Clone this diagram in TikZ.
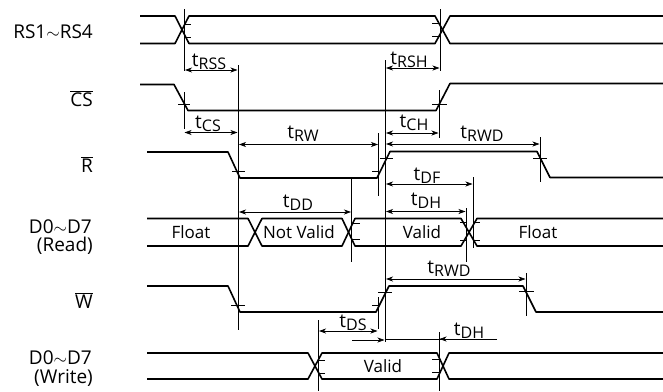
\documentclass[tikz,border=0pt]{standalone}
\usepackage{fontspec}
\setmainfont{Open Sans}
\usetikzlibrary{arrows.meta}
\newcommand{\tlab}[1]{{\fontsize{19}{19}\selectfont t}\raisebox{-3pt}{\fontsize{16}{16}\selectfont #1}}
\newcommand{\ovl}[1]{$\overline{\mbox{#1}}$}
\tikzset{
  sig/.style={line width=1.6pt,line join=round},
  guide/.style={line width=0.7pt},
  dim/.style={line width=0.7pt,{Stealth[length=7pt,width=5pt,inset=2pt]}-{Stealth[length=7pt,width=5pt,inset=2pt]}},
  dimr/.style={line width=0.7pt,-{Stealth[length=7pt,width=5pt,inset=2pt]}},
  dimtxt/.style={anchor=base,inner sep=0pt},
  lbl/.style={anchor=base east,inner sep=0pt,font=\fontsize{19}{19}\selectfont},
  val/.style={anchor=center,inner sep=0pt,font=\fontsize{17}{18}\selectfont}
}
\begin{document}
\begin{tikzpicture}[x=1pt,y=-1pt]
\useasboundingbox[fill=white] (0,0) rectangle (663,391);
% signals
\draw[sig] (140,16)--(175,16)--(189,43.5)--(435,43.5)--(450,16)--(663,16);
\draw[sig] (140,43.5)--(175,43.5)--(189,16)--(435,16)--(450,43.5)--(663,43.5);
\draw[sig] (140,84.5)--(174,84.5)--(188,110.5)--(436,110.5)--(450,83.5)--(663,83.5);
\draw[sig] (147,152)--(228,152)--(240,178)--(377,178)--(390,151.5)--(537,151.5)--(550,177.5)--(663,177.5);
\draw[sig] (147,218.5)--(248,218.5)--(262,246)--(342,246)--(355,218.5)--(461,218.5)--(477,246)--(663,246);
\draw[sig] (147,246)--(248,246)--(262,218.5)--(342,218.5)--(355,246)--(461,246)--(477,218.5)--(663,218.5);
\draw[sig] (147,286)--(228,286)--(240,312)--(376,312)--(389,286)--(523,286)--(536,312)--(663,312);
\draw[sig] (147,353)--(308,353)--(322,379)--(437,379)--(449,353)--(663,353);
\draw[sig] (147,379)--(308,379)--(322,353)--(437,353)--(449,379)--(663,379);
% guides
\draw[guide] (184.5,9)--(184.5,71);
\draw[guide] (440,9)--(440,71);
\draw[guide] (238,65)--(238,330);
\draw[guide] (385,60)--(385,342);
\draw[guide] (184,92)--(184,129);
\draw[guide] (439,90)--(439,138);
\draw[guide] (378.5,133)--(378.5,196);
\draw[guide] (540,137)--(540,182);
\draw[guide] (473,177)--(473,248);
\draw[guide] (466,208)--(466,262);
\draw[guide] (351.5,179)--(351.5,262);
\draw[guide] (378,297)--(378,329);
\draw[guide] (526,273)--(526,316);
\draw[guide] (318,320)--(318,391);
\draw[guide] (439,332)--(439,391);
% level ticks
\draw[guide] (184,24)--(191,24) (184,37)--(191,37) (432,23)--(440,23) (432,36)--(440,36);
\draw[guide] (178,104)--(190,104) (432,104)--(447,104);
\draw[guide] (232,171.5)--(245,171.5) (372,171)--(379,171) (380,158)--(393,158) (533,158)--(547,158);
\draw[guide] (351,223)--(360,223) (351,239)--(360,239);
\draw[guide] (460,222)--(466,222) (473,222)--(480,222) (460,240)--(466,240) (473,240)--(480,240);
\draw[guide] (231,305.5)--(245,305.5) (372,305.5)--(378,305.5) (378,292)--(392,292) (519,291)--(534,291);
\draw[guide] (318,360)--(325,360) (318,373)--(325,373) (432,359)--(439,359) (432,372)--(439,372);
% dimension arrows
\draw[dim] (185,70)--(237.5,70);
\draw[dim] (386,68)--(439.5,68);
\draw[dim] (184.5,132.5)--(237.5,132.5);
\draw[dim] (386,133)--(438.5,133);
\draw[dim] (239,144.5)--(378,144.5);
\draw[dim] (386,144)--(539.5,144);
\draw[dim] (386,184)--(472.5,184);
\draw[dim] (386,211.5)--(465.5,211.5);
\draw[dim] (239,212)--(351,212);
\draw[dim] (386,279)--(525.5,279);
\draw[dim] (319,331)--(377.5,331);
\draw[dimr] (352,340)--(384.5,340);
\draw[guide] (385,339)--(497,339);
\draw[dimr] (497,339)--(439.5,339);
% dimension labels
\node[dimtxt] (trss) at (209,66) {\tlab{RSS}};
\node[dimtxt] (trsh) at (409,64) {\tlab{RSH}};
\node[dimtxt] (tcs) at (208,128) {\tlab{CS}};
\node[dimtxt] (tch) at (414,127) {\tlab{CH}};
\node[dimtxt] (trw) at (303,138) {\tlab{RW}};
\node[dimtxt] (trwd) at (482,138) {\tlab{RWD}};
\node[dimtxt] (tdf) at (427,180) {\tlab{DF}};
\node[dimtxt] (tdh) at (426,205) {\tlab{DH}};
\node[dimtxt] (tdd) at (298,207) {\tlab{DD}};
\node[dimtxt] (trwdb) at (449,273) {\tlab{RWD}};
\node[dimtxt] (tds) at (353,327) {\tlab{DS}};
\node[dimtxt] (tdhb) at (469,335) {\tlab{DH}};
% values
\node[val] (v1) at (191,232) {Float};
\node[val] (v2) at (299,232) {Not Valid};
\node[val] (v3) at (422,232) {Valid};
\node[val] (v4) at (538,232) {Float};
\node[val] (v5) at (383,366) {Valid};
% signal names
\node[lbl] (n1) at (93,38) {RS1$\sim$RS4};
\node[lbl] (n2) at (93,106) {\ovl{CS}};
\node[lbl] (n3) at (93,172) {\ovl{R}};
\node[lbl] (n4) at (92,233) {D0$\sim$D7};
\node[lbl] (n5) at (93,251) {(Read)};
\node[lbl] (n6) at (93,308) {\ovl{W}};
\node[lbl] (n7) at (92,364) {D0$\sim$D7};
\node[lbl] (n8) at (93,383) {(Write)};
\end{tikzpicture}
\end{document}
